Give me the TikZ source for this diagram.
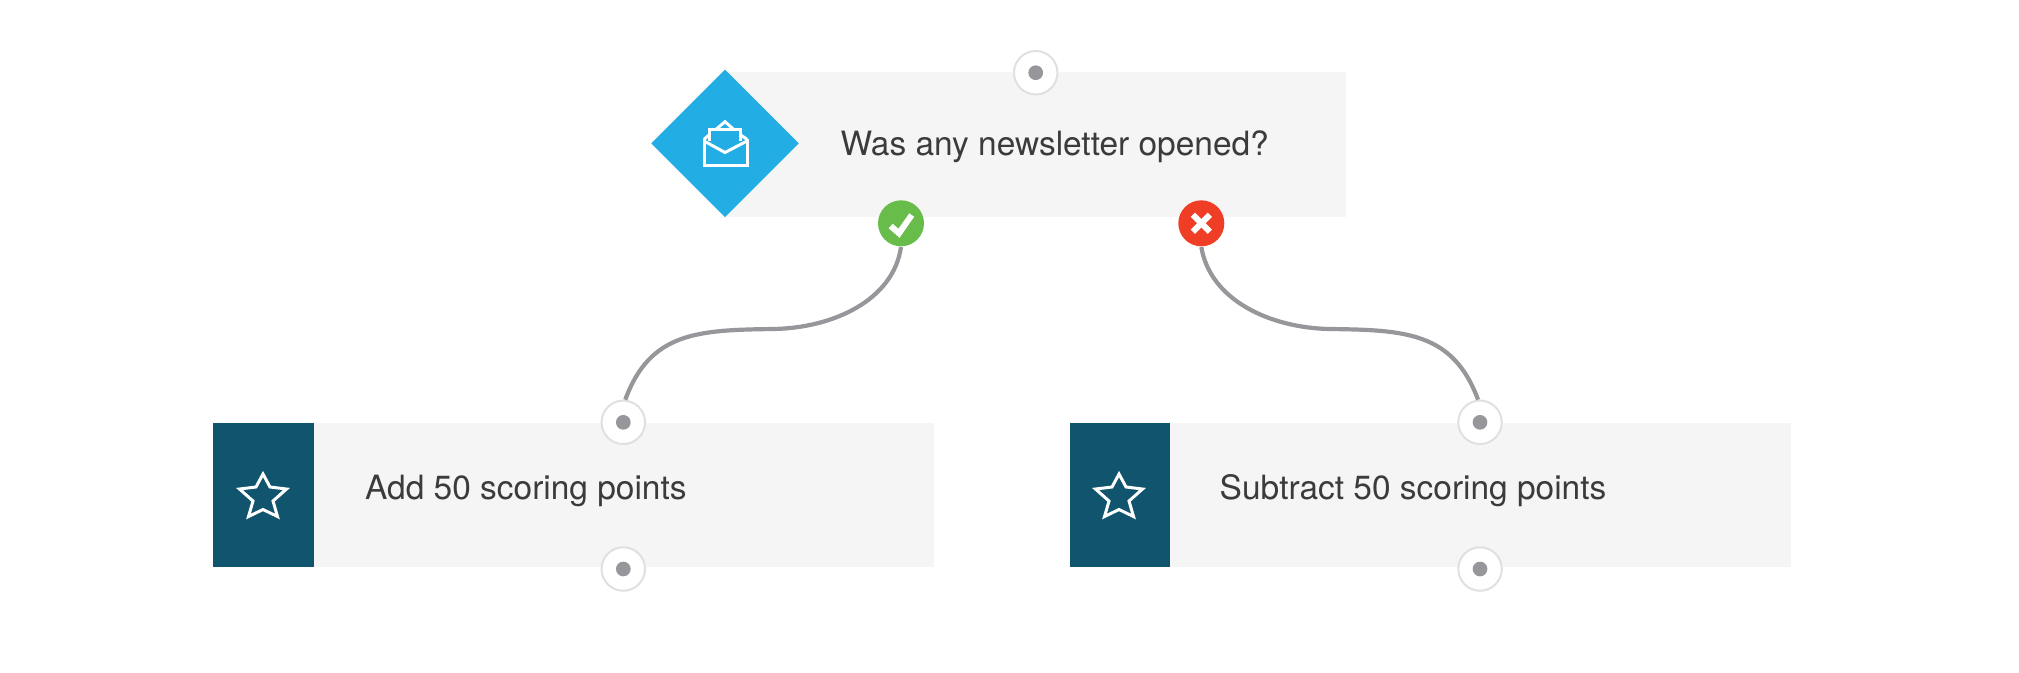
\documentclass[tikz,border=0pt]{standalone}
\usepackage{fontspec}
\setmainfont{TeX Gyre Heros}
\usetikzlibrary{shapes.geometric}
\definecolor{panelgray}{HTML}{F5F5F5}
\definecolor{ifblue}{HTML}{22ADE4}
\definecolor{actionteal}{HTML}{10546D}
\definecolor{yesgreen}{HTML}{67BC4A}
\definecolor{nored}{HTML}{EF3E25}
\definecolor{linegray}{HTML}{97979B}
\definecolor{ringgray}{HTML}{E0E0E0}
\definecolor{textgray}{HTML}{3B3B3B}
\tikzset{
    panel/.style={fill=panelgray, minimum height=1.445cm, inner sep=0pt, anchor=north west},
    title/.style={text=textgray, font=\fontsize{9.52}{12}\selectfont, anchor=base west, inner sep=0pt},
    port/.style={circle, draw=ringgray, line width=0.2mm, fill=white, minimum size=0.435cm, inner sep=0pt},
    portdot/.style={circle, fill=linegray, minimum size=0.147cm, inner sep=0pt},
    decision/.style={circle, minimum size=0.46cm, inner sep=0pt},
    wire/.style={draw=linegray, line width=0.42mm},
    glyph/.style={draw=white, line width=0.3mm},
    tick/.style={draw=white, line width=0.6mm},
    starglyph/.pic={
        \draw[glyph] (0,-0.21) -- (0.07,-0.08) -- (0.235,-0.06) -- (0.10,0.06) -- (0.145,0.215)
            -- (0,0.145) -- (-0.145,0.215) -- (-0.10,0.06) -- (-0.235,-0.06) -- (-0.07,-0.08) -- cycle;
    }
}
\begin{document}
\begin{tikzpicture}[x=1cm, y=-1cm]
    \useasboundingbox (0,0) rectangle (20.19,6.72);

    % Condition
    \node[panel, minimum width=6.207cm] (cond) at (7.25,0.713) {};
    \node[diamond, fill=ifblue, minimum size=1.48cm, inner sep=0pt] (icon) at (7.25,1.433) {};
    \node[title] (condtext) at (8.40,1.555) {Was any newsletter opened?};

    % Envelope
    \draw[glyph] (7.04,1.393) -- (7.04,1.65) -- (7.47,1.65) -- (7.47,1.393);
    \draw[glyph] (7.04,1.41) -- (7.25,1.525) -- (7.47,1.41);
    \draw[glyph] (7.09,1.41) -- (7.09,1.293) -- (7.407,1.293) -- (7.407,1.41);
    \draw[glyph] (7.16,1.293) -- (7.25,1.217) -- (7.335,1.293);
    \draw[glyph] (7.04,1.393) -- (7.09,1.35);
    \draw[glyph] (7.47,1.393) -- (7.407,1.35);

    % Actions
    \node[panel, minimum width=7.21cm] (add) at (2.125,4.22) {};
    \node[panel, minimum width=1.006cm, fill=actionteal] (addicon) at (2.125,4.22) {};
    \node[title] (addtext) at (3.645,4.995) {Add 50 scoring points};
    \node[panel, minimum width=7.21cm] (sub) at (10.69,4.22) {};
    \node[panel, minimum width=1.006cm, fill=actionteal] (subicon) at (10.69,4.22) {};
    \node[title] (subtext) at (12.19,4.995) {Subtract 50 scoring points};

    % Stars
    \foreach \cx in {2.63, 11.19} {
        \pic at (\cx,4.95) {starglyph};
    }

    % Ports
    \foreach \name/\px/\py in {top/10.357/0.727, addin/6.233/4.223, addout/6.233/5.69, subin/14.80/4.223, subout/14.80/5.69} {
        \node[port] (\name) at (\px,\py) {};
        \node[portdot] (\name dot) at (\px,\py) {};
    }

    % Yes and no
    \node[decision, fill=yesgreen] (yes) at (9.01,2.233) {};
    \node[decision, fill=nored] (no) at (12.013,2.233) {};
    \draw[tick] (8.907,2.26) -- (8.99,2.333) -- (9.117,2.15);
    \draw[tick] (11.928,2.148) -- (12.098,2.318);
    \draw[tick] (12.098,2.148) -- (11.928,2.318);

    % Wires
    \draw[wire] (yes.south) .. controls (8.934,3.00) and (8.334,3.28) .. (7.734,3.29)
        .. controls (6.98,3.30) and (6.50,3.32) .. (addin.85);
    \draw[wire] (no.south) .. controls (12.10,3.00) and (12.70,3.28) .. (13.30,3.29)
        .. controls (14.05,3.30) and (14.53,3.32) .. (subin.95);

\end{tikzpicture}
\end{document}
